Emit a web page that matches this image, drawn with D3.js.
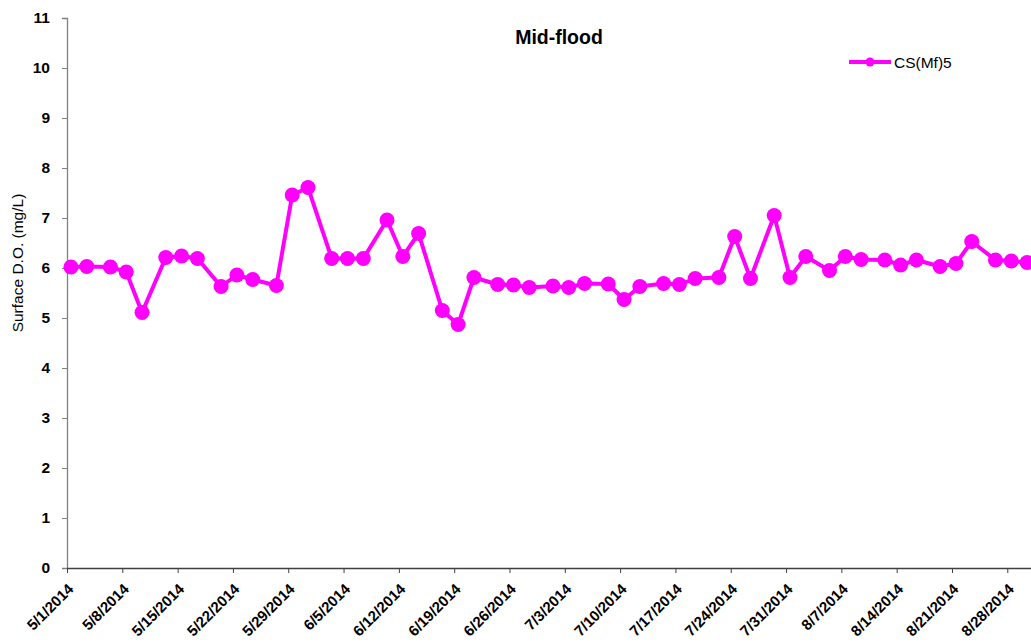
<!DOCTYPE html>
<html><head><meta charset="utf-8">
<script src="https://cdn.jsdelivr.net/npm/d3@7"></script>
<style>body{margin:0;background:#fff;} svg{display:block;font-family:"Liberation Sans",Arial,sans-serif;}</style>
</head><body>
<script>
const title = "Mid-flood";
const seriesName = "CS(Mf)5";
const yLabel = "Surface D.O. (mg/L)";
const dates = ["5/1/2014","5/3/2014","5/6/2014","5/8/2014","5/10/2014","5/13/2014","5/15/2014","5/17/2014","5/20/2014","5/22/2014","5/24/2014","5/27/2014","5/29/2014","5/31/2014","6/3/2014","6/5/2014","6/7/2014","6/10/2014","6/12/2014","6/14/2014","6/17/2014","6/19/2014","6/21/2014","6/24/2014","6/26/2014","6/28/2014","7/1/2014","7/3/2014","7/5/2014","7/8/2014","7/10/2014","7/12/2014","7/15/2014","7/17/2014","7/19/2014","7/22/2014","7/24/2014","7/26/2014","7/29/2014","7/31/2014","8/2/2014","8/5/2014","8/7/2014","8/9/2014","8/12/2014","8/14/2014","8/16/2014","8/19/2014","8/21/2014","8/23/2014","8/26/2014","8/28/2014","8/30/2014"];
const values = [6.02,6.03,6.02,5.92,5.11,6.21,6.24,6.19,5.63,5.86,5.77,5.65,7.46,7.61,6.19,6.19,6.19,6.96,6.23,6.69,5.15,4.87,5.81,5.67,5.66,5.61,5.64,5.61,5.69,5.68,5.37,5.63,5.69,5.67,5.79,5.81,6.63,5.79,7.05,5.81,6.23,5.95,6.23,6.17,6.16,6.06,6.16,6.03,6.09,6.53,6.16,6.14,6.11];
const xTickLabels = ["5/1/2014","5/8/2014","5/15/2014","5/22/2014","5/29/2014","6/5/2014","6/12/2014","6/19/2014","6/26/2014","7/3/2014","7/10/2014","7/17/2014","7/24/2014","7/31/2014","8/7/2014","8/14/2014","8/21/2014","8/28/2014"];
const yTicks = [0,1,2,3,4,5,6,7,8,9,10,11];
const xDomain = ["5/1/2014","8/31/2014"];

const W = 1031, H = 643;
const parse = d3.timeParse("%m/%d/%Y");
const svg = d3.select("body").append("svg").attr("width", W).attr("height", H);

const x = d3.scaleTime().domain(xDomain.map(parse)).range([67, 1031]);
const y = d3.scaleLinear().domain([0, 11]).range([568, 18]);
const halfDay = d => d3.timeHour.offset(d, 12);

// axes
const yAxis = svg.append("g").attr("transform", "translate(67,0)")
  .call(d3.axisLeft(y).tickValues(yTicks).tickSize(5).tickPadding(12).tickFormat(d3.format("d")));
yAxis.select(".domain").attr("stroke", "#808080").attr("stroke-width", 1.3);
yAxis.selectAll(".tick line").attr("stroke", "#808080");
yAxis.selectAll("text").attr("font-size", 15.5).attr("font-weight", "bold").attr("fill", "#000")
  .attr("font-family", "Liberation Sans, Arial, sans-serif");

const xAxis = svg.append("g").attr("transform", "translate(0,568)")
  .call(d3.axisBottom(x).tickValues(xTickLabels.map(parse)).tickSize(5).tickSizeOuter(0).tickFormat(d3.timeFormat("%-m/%-d/%Y")));
xAxis.select(".domain").attr("stroke", "#404040").attr("stroke-width", 1.3);
xAxis.selectAll(".tick line").attr("stroke", "#404040");
xAxis.selectAll("text").attr("font-size", 15).attr("font-weight", "bold").attr("fill", "#000")
  .attr("font-family", "Liberation Sans, Arial, sans-serif")
  .attr("text-anchor", "end").attr("dy", null).attr("y", 0)
  .attr("transform", "translate(7,22) rotate(-45)");

// line
const pts = dates.map((d, i) => ({d: halfDay(parse(d)), v: values[i]}));
svg.append("path").datum(pts)
  .attr("fill", "none").attr("stroke", "#FF00FF").attr("stroke-width", 4).attr("stroke-linejoin", "round")
  .attr("d", d3.line().x(p => x(p.d)).y(p => y(p.v)));
svg.append("g").selectAll("circle").data(pts).join("circle")
  .attr("cx", p => x(p.d)).attr("cy", p => y(p.v)).attr("r", 7.5).attr("fill", "#FF00FF");

// title
svg.append("text").attr("x", 559).attr("y", 44).attr("text-anchor", "middle")
  .attr("font-size", 19.5).attr("font-weight", "bold").text(title);

// legend
svg.append("line").attr("x1", 849).attr("x2", 891).attr("y1", 62).attr("y2", 62)
  .attr("stroke", "#FF00FF").attr("stroke-width", 4);
svg.append("circle").attr("cx", 870).attr("cy", 62).attr("r", 4.5).attr("fill", "#FF00FF");
svg.append("text").attr("x", 894).attr("y", 67.5).attr("font-size", 15.5).text(seriesName);

// y label
svg.append("text").attr("transform", "translate(23,263) rotate(-90)").attr("text-anchor", "middle")
  .attr("font-size", 15.5).text(yLabel);
</script>
</body></html>
